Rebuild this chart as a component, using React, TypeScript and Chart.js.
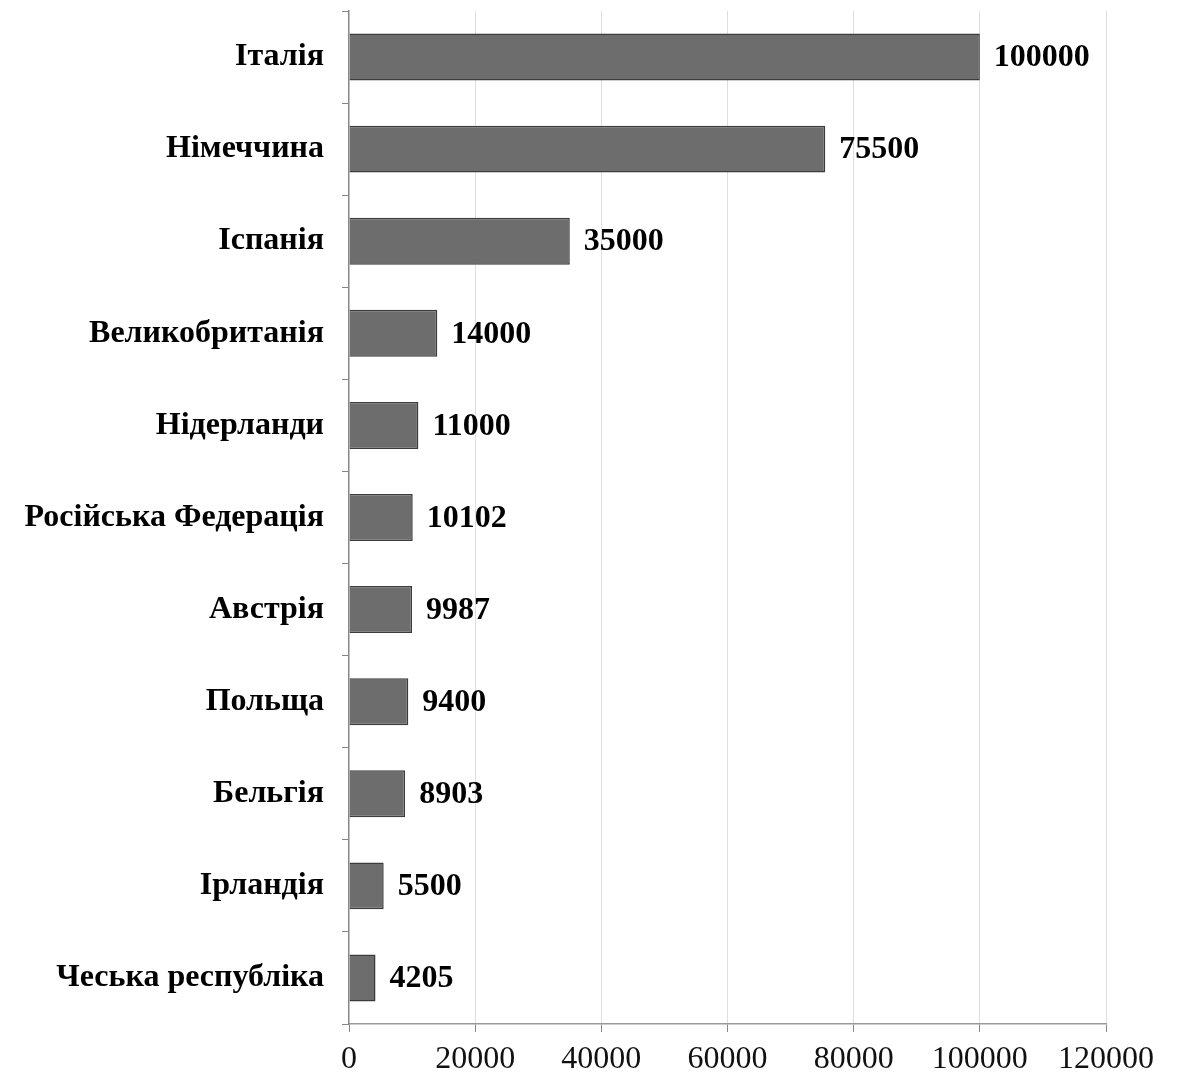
import React, { useEffect, useRef } from "react";
import { Chart, registerables } from "chart.js";

Chart.register(...registerables);

const categories = [
  "Італія",
  "Німеччина",
  "Іспанія",
  "Великобританія",
  "Нідерланди",
  "Російська Федерація",
  "Австрія",
  "Польща",
  "Бельгія",
  "Ірландія",
  "Чеська республіка",
];
const values = [100000, 75500, 35000, 14000, 11000, 10102, 9987, 9400, 8903, 5500, 4205];
const xTicks = [0, 20000, 40000, 60000, 80000, 100000, 120000];

const FONT = "'Liberation Serif', 'Times New Roman', serif";

const dataLabelPlugin = {
  id: "dataLabels",
  afterDatasetsDraw(chart: any) {
    const ctx = chart.ctx;
    const meta = chart.getDatasetMeta(0);
    ctx.save();
    ctx.font = `bold 32px ${FONT}`;
    ctx.fillStyle = "#000";
    ctx.textAlign = "left";
    ctx.textBaseline = "middle";
    meta.data.forEach((bar: any, i: number) => {
      ctx.fillText(String(values[i]), bar.x + 14, bar.y + 1);
    });
    ctx.restore();
  },
};

export default function App() {
  const ref = useRef<HTMLCanvasElement | null>(null);
  useEffect(() => {
    if (!ref.current) return;
    const chart = new Chart(ref.current, {
      type: "bar",
      data: {
        labels: categories,
        datasets: [
          {
            data: values,
            backgroundColor: "#6d6d6d",
            borderColor: "#3c3c3c",
            borderWidth: 1.5,
            barPercentage: 0.51,
            categoryPercentage: 1,
          },
        ],
      },
      options: {
        indexAxis: "y",
        animation: false,
        responsive: false,
        devicePixelRatio: 1,
        layout: { padding: { top: 3, right: 82, left: 0, bottom: 0 } },
        plugins: { legend: { display: false }, tooltip: { enabled: false } },
        scales: {
          x: {
            min: 0,
            max: 120000,
            afterBuildTicks: (s: any) => {
              s.ticks = xTicks.map((v) => ({ value: v }));
            },
            afterFit: (s: any) => {
              s.height = 56;
            },
            grid: {
              color: (c: any) => (c.tick && c.tick.value === 0 ? "rgba(0,0,0,0)" : "#dedede"),
              tickColor: "#888",
              tickLength: 8,
            },
            border: { color: "#999", width: 1.5 },
            ticks: {
              color: "#111",
              font: { family: FONT, size: 32 },
              padding: 8,
              maxRotation: 0,
              callback: (v: any) => String(v),
            },
          },
          y: {
            afterFit: (s: any) => {
              s.width = 341;
              s.paddingTop = 0;
              s.paddingBottom = 0;
            },
            grid: {
              drawOnChartArea: false,
              tickColor: "#888",
              tickLength: 7,
              offset: true,
            },
            border: { color: "#888", width: 1.5 },
            ticks: {
              color: "#000",
              font: { family: FONT, size: 32, weight: "bold" },
              padding: 18,
            },
          },
        },
      },
      plugins: [dataLabelPlugin],
    });
    return () => chart.destroy();
  }, []);
  return <canvas ref={ref} width={1180} height={1072} style={{ display: "block" }} />;
}
